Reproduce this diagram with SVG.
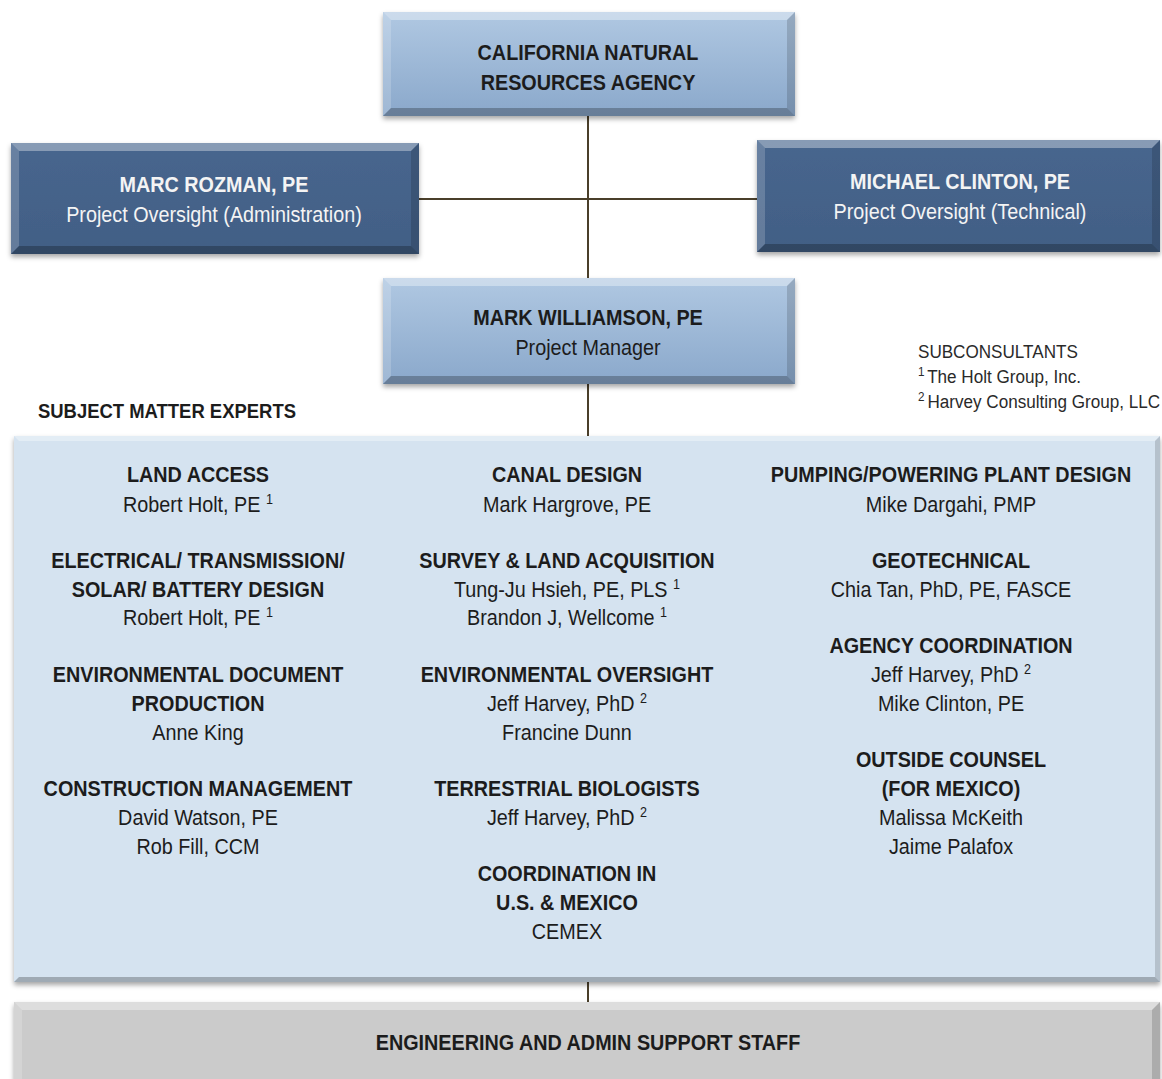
<svg xmlns="http://www.w3.org/2000/svg" width="1162" height="1079" viewBox="0 0 1162 1079">
<defs>
<linearGradient id="gLight" x1="0" y1="0" x2="0" y2="1">
<stop offset="0" stop-color="#b0c8e2"/><stop offset="1" stop-color="#8aa8cb"/>
</linearGradient>
<linearGradient id="gDark" x1="0" y1="0" x2="0" y2="1">
<stop offset="0" stop-color="#47668e"/><stop offset="1" stop-color="#425f85"/>
</linearGradient>
<filter id="sh" x="-5%" y="-10%" width="110%" height="125%">
<feDropShadow dx="0" dy="3" stdDeviation="2.5" flood-color="#000" flood-opacity="0.35"/>
</filter>
</defs>
<style>
text{font-family:"Liberation Sans Narrow","Arial Narrow","Liberation Sans",Arial,sans-serif;text-anchor:middle;fill:#1c1c1c;font-size:22px}
.b{font-weight:bold}
.w{fill:#f4f4f4}
.sup{font-size:14px}
.bl{fill:#ffffff;opacity:0.35}
.bs{fill:#ffffff;opacity:0.18}
.bd{fill:#000000;opacity:0.25}
.br{fill:#000000;opacity:0.15}
.ln{stroke:#4a3f2a;stroke-width:2;fill:none}
.note{text-anchor:start;font-size:19px;fill:#2a2a2a}
.note .sup{font-size:13px}
.sme{text-anchor:start;font-size:20.5px}
</style>
<rect width="1162" height="1079" fill="#ffffff"/>

<g id="connectors">
<line class="ln" x1="588" y1="116" x2="588" y2="278"/>
<line class="ln" x1="419" y1="199" x2="757" y2="199"/>
<line class="ln" x1="588" y1="384" x2="588" y2="436"/>
<line class="ln" x1="588" y1="982" x2="588" y2="1002"/>
</g>

<g id="agency">
<rect x="383" y="12" width="412" height="104" fill="url(#gLight)" filter="url(#sh)"/>
<polygon class="bl" points="383,12 795,12 787,20 391,20"/>
<polygon class="bs" points="383,12 391,20 391,108 383,116"/>
<polygon class="bd" points="383,116 391,108 787,108 795,116"/>
<polygon class="br" points="795,12 795,116 787,108 787,20"/>
<g transform="scale(0.9,1)">
<text class="b" x="653.33" y="60">CALIFORNIA NATURAL</text>
<text class="b" x="653.33" y="90">RESOURCES AGENCY</text>
</g>
</g>

<g id="rozman">
<rect x="11" y="143" width="408" height="111" fill="url(#gDark)" filter="url(#sh)"/>
<polygon class="bl" points="11,143 419,143 411,151 19,151"/>
<polygon class="bs" points="11,143 19,151 19,246 11,254"/>
<polygon class="bd" points="11,254 19,246 411,246 419,254"/>
<polygon class="br" points="419,143 419,254 411,246 411,151"/>
<g transform="scale(0.9,1)">
<text class="b w" x="237.78" y="192">MARC ROZMAN, PE</text>
<text class="w" x="237.78" y="222">Project Oversight (Administration)</text>
</g>
</g>

<g id="clinton">
<rect x="757" y="140" width="403" height="112" fill="url(#gDark)" filter="url(#sh)"/>
<polygon class="bl" points="757,140 1160,140 1152,148 765,148"/>
<polygon class="bs" points="757,140 765,148 765,244 757,252"/>
<polygon class="bd" points="757,252 765,244 1152,244 1160,252"/>
<polygon class="br" points="1160,140 1160,252 1152,244 1152,148"/>
<g transform="scale(0.9,1)">
<text class="b w" x="1066.67" y="189">MICHAEL CLINTON, PE</text>
<text class="w" x="1066.67" y="219">Project Oversight (Technical)</text>
</g>
</g>

<g id="manager">
<rect x="383" y="278" width="412" height="106" fill="url(#gLight)" filter="url(#sh)"/>
<polygon class="bl" points="383,278 795,278 787,286 391,286"/>
<polygon class="bs" points="383,278 391,286 391,376 383,384"/>
<polygon class="bd" points="383,384 391,376 787,376 795,384"/>
<polygon class="br" points="795,278 795,384 787,376 787,286"/>
<g transform="scale(0.9,1)">
<text class="b" x="653.33" y="325">MARK WILLIAMSON, PE</text>
<text x="653.33" y="355">Project Manager</text>
</g>
</g>

<g id="subconsultants" transform="scale(0.9,1)">
<text class="note" x="1020" y="358">SUBCONSULTANTS</text>
<text class="note" x="1020" y="383"><tspan class="sup" dy="-7">1</tspan><tspan dy="7" dx="-2"> The Holt Group, Inc.</tspan></text>
<text class="note" x="1020" y="408"><tspan class="sup" dy="-7">2</tspan><tspan dy="7" dx="-2"> Harvey Consulting Group, LLC</tspan></text>
</g>

<g id="sme-label" transform="scale(0.9,1)">
<text class="b sme" x="42.22" y="418">SUBJECT MATTER EXPERTS</text>
</g>

<g id="experts">
<rect x="14" y="436" width="1146" height="546" fill="#d5e3f0" filter="url(#sh)"/>
<polygon class="bl" points="14,436 1160,436 1155,441 19,441"/>
<polygon class="bd" points="14,982 19,977 1155,977 1160,982"/>
<polygon class="br" points="1160,436 1160,982 1155,977 1155,441"/>
<g transform="scale(0.9,1)">
<text class="b" x="220" y="482">LAND ACCESS</text>
<text x="220" y="512">Robert Holt, PE <tspan class="sup" dy="-8">1</tspan></text>
<text class="b" x="220" y="568">ELECTRICAL/ TRANSMISSION/</text>
<text class="b" x="220" y="597">SOLAR/ BATTERY DESIGN</text>
<text x="220" y="625">Robert Holt, PE <tspan class="sup" dy="-8">1</tspan></text>
<text class="b" x="220" y="682">ENVIRONMENTAL DOCUMENT</text>
<text class="b" x="220" y="711">PRODUCTION</text>
<text x="220" y="740">Anne King</text>
<text class="b" x="220" y="796">CONSTRUCTION MANAGEMENT</text>
<text x="220" y="825">David Watson, PE</text>
<text x="220" y="854">Rob Fill, CCM</text>

<text class="b" x="630" y="482">CANAL DESIGN</text>
<text x="630" y="512">Mark Hargrove, PE</text>
<text class="b" x="630" y="568">SURVEY &amp; LAND ACQUISITION</text>
<text x="630" y="597">Tung-Ju Hsieh, PE, PLS <tspan class="sup" dy="-8">1</tspan></text>
<text x="630" y="625">Brandon J, Wellcome <tspan class="sup" dy="-8">1</tspan></text>
<text class="b" x="630" y="682">ENVIRONMENTAL OVERSIGHT</text>
<text x="630" y="711">Jeff Harvey, PhD <tspan class="sup" dy="-8">2</tspan></text>
<text x="630" y="740">Francine Dunn</text>
<text class="b" x="630" y="796">TERRESTRIAL BIOLOGISTS</text>
<text x="630" y="825">Jeff Harvey, PhD <tspan class="sup" dy="-8">2</tspan></text>
<text class="b" x="630" y="881">COORDINATION IN</text>
<text class="b" x="630" y="910">U.S. &amp; MEXICO</text>
<text x="630" y="939">CEMEX</text>

<text class="b" x="1056.67" y="482">PUMPING/POWERING PLANT DESIGN</text>
<text x="1056.67" y="512">Mike Dargahi, PMP</text>
<text class="b" x="1056.67" y="568">GEOTECHNICAL</text>
<text x="1056.67" y="597">Chia Tan, PhD, PE, FASCE</text>
<text class="b" x="1056.67" y="653">AGENCY COORDINATION</text>
<text x="1056.67" y="682">Jeff Harvey, PhD <tspan class="sup" dy="-8">2</tspan></text>
<text x="1056.67" y="711">Mike Clinton, PE</text>
<text class="b" x="1056.67" y="767">OUTSIDE COUNSEL</text>
<text class="b" x="1056.67" y="796">(FOR MEXICO)</text>
<text x="1056.67" y="825">Malissa McKeith</text>
<text x="1056.67" y="854">Jaime Palafox</text>
</g>
</g>

<g id="support">
<rect x="14" y="1002" width="1146" height="90" fill="#cbcbcb" filter="url(#sh)"/>
<polygon class="bl" points="14,1002 1160,1002 1152,1010 22,1010"/>
<polygon class="bs" points="14,1002 22,1010 22,1092 14,1092"/>
<polygon class="br" points="1160,1002 1160,1092 1152,1092 1152,1010"/>
<g transform="scale(0.9,1)">
<text class="b" x="653.33" y="1050">ENGINEERING AND ADMIN SUPPORT STAFF</text>
</g>
</g>
</svg>
